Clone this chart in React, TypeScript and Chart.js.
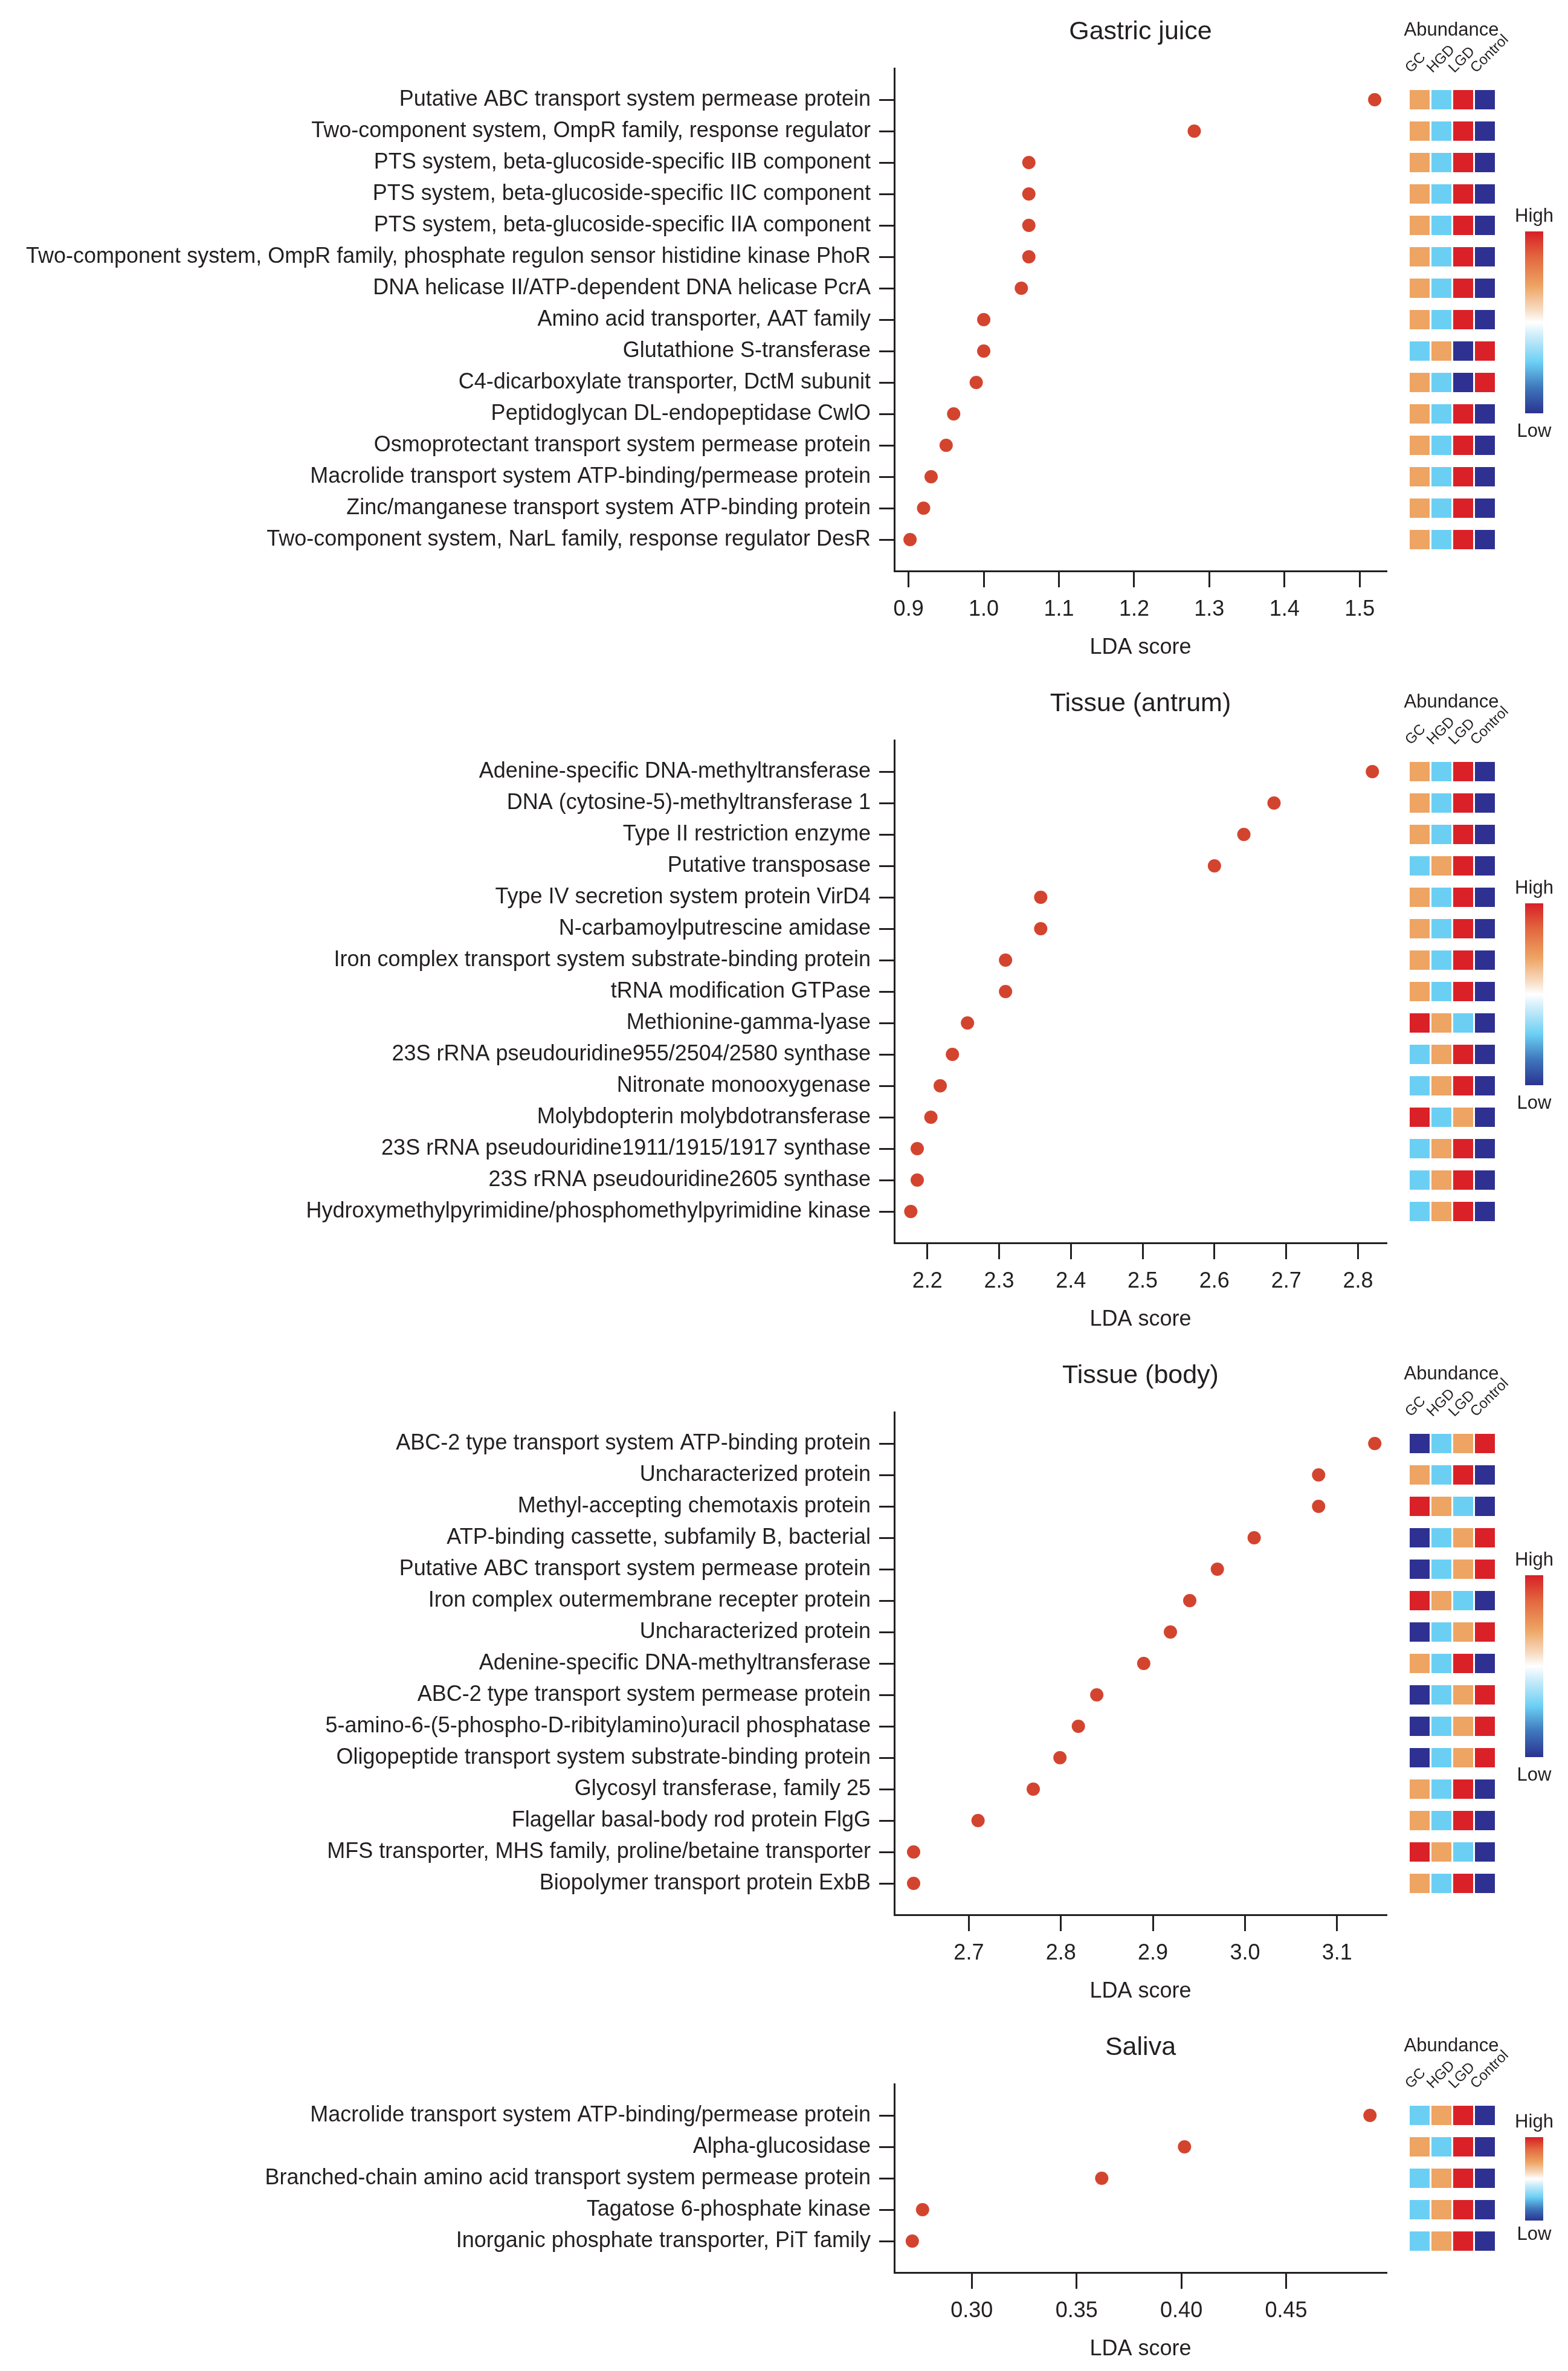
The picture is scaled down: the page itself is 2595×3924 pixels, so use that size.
import React, { useEffect, useRef } from "react";
import { Chart, registerables } from "chart.js";

Chart.register(...registerables);

// ---------------- DATA ----------------
const groupLabels = ["GC", "HGD", "LGD", "Control"];

// Abundance levels: 4 = high (red), 3 = orange, 2 = light blue, 1 = low (dark blue)
const gastricLabels = [
  "Putative ABC transport system permease protein",
  "Two-component system, OmpR family, response regulator",
  "PTS system, beta-glucoside-specific IIB component",
  "PTS system, beta-glucoside-specific IIC component",
  "PTS system, beta-glucoside-specific IIA component",
  "Two-component system, OmpR family, phosphate regulon sensor histidine kinase PhoR",
  "DNA helicase II/ATP-dependent DNA helicase PcrA",
  "Amino acid transporter, AAT family",
  "Glutathione S-transferase",
  "C4-dicarboxylate transporter, DctM subunit",
  "Peptidoglycan DL-endopeptidase CwlO",
  "Osmoprotectant transport system permease protein",
  "Macrolide transport system ATP-binding/permease protein",
  "Zinc/manganese transport system ATP-binding protein",
  "Two-component system, NarL family, response regulator DesR",
];
const gastricScores = [1.52, 1.28, 1.06, 1.06, 1.06, 1.06, 1.05, 1.0, 1.0, 0.99, 0.96, 0.95, 0.93, 0.92, 0.902];
const gastricHeat = [
  [3, 2, 4, 1], [3, 2, 4, 1], [3, 2, 4, 1], [3, 2, 4, 1], [3, 2, 4, 1],
  [3, 2, 4, 1], [3, 2, 4, 1], [3, 2, 4, 1], [2, 3, 1, 4], [3, 2, 1, 4],
  [3, 2, 4, 1], [3, 2, 4, 1], [3, 2, 4, 1], [3, 2, 4, 1], [3, 2, 4, 1],
];
const gastricTicks = [0.9, 1.0, 1.1, 1.2, 1.3, 1.4, 1.5];

const antrumLabels = [
  "Adenine-specific DNA-methyltransferase",
  "DNA (cytosine-5)-methyltransferase 1",
  "Type II restriction enzyme",
  "Putative transposase",
  "Type IV secretion system protein VirD4",
  "N-carbamoylputrescine amidase",
  "Iron complex transport system substrate-binding protein",
  "tRNA modification GTPase",
  "Methionine-gamma-lyase",
  "23S rRNA pseudouridine955/2504/2580 synthase",
  "Nitronate monooxygenase",
  "Molybdopterin molybdotransferase",
  "23S rRNA pseudouridine1911/1915/1917 synthase",
  "23S rRNA pseudouridine2605 synthase",
  "Hydroxymethylpyrimidine/phosphomethylpyrimidine kinase",
];
const antrumScores = [2.82, 2.683, 2.641, 2.6, 2.358, 2.358, 2.309, 2.309, 2.256, 2.235, 2.218, 2.205, 2.186, 2.186, 2.177];
const antrumHeat = [
  [3, 2, 4, 1], [3, 2, 4, 1], [3, 2, 4, 1], [2, 3, 4, 1], [3, 2, 4, 1],
  [3, 2, 4, 1], [3, 2, 4, 1], [3, 2, 4, 1], [4, 3, 2, 1], [2, 3, 4, 1],
  [2, 3, 4, 1], [4, 2, 3, 1], [2, 3, 4, 1], [2, 3, 4, 1], [2, 3, 4, 1],
];
const antrumTicks = [2.2, 2.3, 2.4, 2.5, 2.6, 2.7, 2.8];

const bodyLabels = [
  "ABC-2 type transport system ATP-binding protein",
  "Uncharacterized protein",
  "Methyl-accepting chemotaxis protein",
  "ATP-binding cassette, subfamily B, bacterial",
  "Putative ABC transport system permease protein",
  "Iron complex outermembrane recepter protein",
  "Uncharacterized protein",
  "Adenine-specific DNA-methyltransferase",
  "ABC-2 type transport system permease protein",
  "5-amino-6-(5-phospho-D-ribitylamino)uracil phosphatase",
  "Oligopeptide transport system substrate-binding protein",
  "Glycosyl transferase, family 25",
  "Flagellar basal-body rod protein FlgG",
  "MFS transporter, MHS family, proline/betaine transporter",
  "Biopolymer transport protein ExbB",
];
const bodyScores = [3.141, 3.08, 3.08, 3.01, 2.97, 2.94, 2.919, 2.89, 2.839, 2.819, 2.799, 2.77, 2.71, 2.64, 2.64];
const bodyHeat = [
  [1, 2, 3, 4], [3, 2, 4, 1], [4, 3, 2, 1], [1, 2, 3, 4], [1, 2, 3, 4],
  [4, 3, 2, 1], [1, 2, 3, 4], [3, 2, 4, 1], [1, 2, 3, 4], [1, 2, 3, 4],
  [1, 2, 3, 4], [3, 2, 4, 1], [3, 2, 4, 1], [4, 3, 2, 1], [3, 2, 4, 1],
];
const bodyTicks = [2.7, 2.8, 2.9, 3.0, 3.1];

const salivaLabels = [
  "Macrolide transport system ATP-binding/permease protein",
  "Alpha-glucosidase",
  "Branched-chain amino acid transport system permease protein",
  "Tagatose 6-phosphate kinase",
  "Inorganic phosphate transporter, PiT family",
];
const salivaScores = [0.49, 0.4015, 0.362, 0.2765, 0.2716];
const salivaHeat = [
  [2, 3, 4, 1], [3, 2, 4, 1], [2, 3, 4, 1], [2, 3, 4, 1], [2, 3, 4, 1],
];
const salivaTicks = [0.3, 0.35, 0.4, 0.45];

// ---------------- STYLE ----------------
const FONT = "'Liberation Sans', Arial, sans-serif";
const INK = "#231F20";
const DOT = "#D3442F";
const LEVEL_COLORS: Record<number, string> = {
  4: "#DA2128",
  3: "#EEA463",
  2: "#6BCFF4",
  1: "#2E3191",
};

const AXIS_X = 1480; // absolute x of y-axis line
const AXIS_RIGHT = 2295;
const ROW = 52;
const LABEL_DROP = 22; // column labels start this far below the y-axis top

type PanelProps = {
  title: string;
  labels: string[];
  scores: number[];
  heat: number[][];
  ticks: number[];
  decimals: number;
  xMin: number;
  xMax: number;
  axisTop: number; // absolute y of the top of the y axis
  short?: boolean;
};

function Panel(p: PanelProps) {
  const dotRef = useRef<HTMLCanvasElement>(null);
  const heatRef = useRef<HTMLCanvasElement>(null);
  const n = p.labels.length;
  const xAxisY = p.axisTop + (n + 1) * ROW;
  const T = p.axisTop - 110;
  const H = xAxisY + 170 - T;

  useEffect(() => {
    const titleSize = 43;
    const titleLH = titleSize * 1.2;
    const dot = new Chart(dotRef.current!, {
      type: "scatter",
      data: {
        datasets: [
          {
            data: p.scores.map((s, i) => ({ x: s, y: i })),
            backgroundColor: DOT,
            borderWidth: 0,
            pointRadius: 11,
            pointHoverRadius: 11,
          },
        ],
      },
      options: {
        animation: false,
        responsive: false,
        maintainAspectRatio: false,
        events: [],
        layout: { padding: { left: 0, right: 2310 - AXIS_RIGHT, top: 0, bottom: 0 } },
        plugins: {
          legend: { display: false },
          tooltip: { enabled: false },
          title: {
            display: true,
            text: p.title,
            color: INK,
            fullSize: false,
            font: { family: FONT, size: titleSize, weight: "normal", lineHeight: 1.2 },
            padding: { top: 50 - titleLH / 2, bottom: 110 - (50 - titleLH / 2) - titleLH },
          },
        },
        scales: {
          x: {
            type: "linear",
            min: p.xMin,
            max: p.xMax,
            afterBuildTicks: (scale: any) => {
              scale.ticks = p.ticks.map((v) => ({ value: v }));
            },
            afterFit: (scale: any) => {
              scale.height = H - (xAxisY - T);
              scale.paddingLeft = 0;
              scale.paddingRight = 0;
            },
            border: { display: true, color: INK, width: 3 },
            grid: {
              display: true,
              drawOnChartArea: false,
              drawTicks: true,
              tickLength: 27,
              tickWidth: 3,
              tickColor: INK,
            },
            ticks: {
              color: INK,
              padding: 15,
              autoSkip: false,
              maxRotation: 0,
              font: { family: FONT, size: 36, lineHeight: 1.2 },
              callback: (v: any) => Number(v).toFixed(p.decimals),
            },
            title: {
              display: true,
              text: "LDA score",
              color: INK,
              font: { family: FONT, size: 36, lineHeight: 1.2 },
              padding: { top: 0, bottom: 21 },
            },
          },
          y: {
            type: "linear",
            reverse: true,
            min: -1,
            max: n,
            afterBuildTicks: (scale: any) => {
              scale.ticks = p.labels.map((_, i) => ({ value: i }));
            },
            afterFit: (scale: any) => {
              scale.width = AXIS_X;
            },
            border: { display: true, color: INK, width: 3 },
            grid: {
              display: true,
              drawOnChartArea: false,
              drawTicks: true,
              tickLength: 25,
              tickWidth: 3,
              tickColor: INK,
            },
            ticks: {
              color: INK,
              padding: 14,
              autoSkip: false,
              font: { family: FONT, size: 36, lineHeight: 1.2 },
              callback: (v: any) => p.labels[Math.round(Number(v))] ?? "",
            },
          },
        },
      },
    } as any);

    const cellHalf = 16 / ROW;
    const heatChart = new Chart(heatRef.current!, {
      type: "bar",
      data: {
        labels: groupLabels,
        datasets: p.heat.map((row, ri) => ({
          data: row.map(() => [ri - cellHalf, ri + cellHalf]),
          backgroundColor: row.map((lv) => LEVEL_COLORS[lv]),
          borderWidth: 0,
          grouped: false,
          barPercentage: 33 / 36,
          categoryPercentage: 1,
        })),
      },
      options: {
        animation: false,
        responsive: false,
        maintainAspectRatio: false,
        events: [],
        layout: {
          padding: {
            left: 2331.5 - 2300,
            right: 2595 - 2475.5,
            top: 0,
            bottom: H - (xAxisY - T),
          },
        },
        plugins: { legend: { display: false }, tooltip: { enabled: false }, title: { display: false } },
        scales: {
          x: {
            type: "category",
            position: "top",
            offset: true,
            afterFit: (scale: any) => {
              scale.height = p.axisTop + LABEL_DROP - T;
              scale.paddingLeft = 0;
              scale.paddingRight = 0;
            },
            border: { display: false },
            grid: { display: false },
            ticks: {
              color: INK,
              autoSkip: false,
              minRotation: 45,
              maxRotation: 45,
              padding: 0,
              labelOffset: 1,
              font: { family: FONT, size: 24, lineHeight: 1.2 },
            },
          },
          y: {
            type: "linear",
            display: false,
            reverse: true,
            min: -1 + LABEL_DROP / ROW,
            max: n,
          },
        },
      },
    } as any);

    return () => {
      dot.destroy();
      heatChart.destroy();
    };
  }, []);

  const shortBar = !!p.short;
  const highY = p.axisTop + (shortBar ? 62 : 244);
  const barTop = p.axisTop + (shortBar ? 88 : 270);
  const barBottom = p.axisTop + (shortBar ? 226 : 571);
  const lowY = p.axisTop + (shortBar ? 248 : 600);

  const textStyle: React.CSSProperties = {
    position: "absolute",
    fontFamily: FONT,
    color: INK,
    fontSize: 31,
    lineHeight: "38px",
    whiteSpace: "nowrap",
    transform: "translate(-50%, -50%)",
  };

  return (
    <>
      <canvas
        ref={dotRef}
        width={2310}
        height={H}
        style={{ position: "absolute", left: 0, top: T, width: 2310, height: H }}
      />
      <canvas
        ref={heatRef}
        width={295}
        height={H}
        style={{ position: "absolute", left: 2300, top: T, width: 295, height: H }}
      />
      <div style={{ ...textStyle, left: 2402, top: p.axisTop - 64 }}>Abundance</div>
      <div style={{ ...textStyle, left: 2539, top: highY }}>High</div>
      <div style={{ ...textStyle, left: 2539, top: lowY }}>Low</div>
      <div
        style={{
          position: "absolute",
          left: 2524,
          top: barTop,
          width: 30,
          height: barBottom - barTop,
          background:
            "linear-gradient(to bottom, #D71F27 0%, #E2673F 14%, #EEA463 30%, #F7DCC3 43%, #FFFFFF 50%, #C9EBF9 58%, #6BCFF4 72%, #3E76BB 86%, #2B3390 100%)",
        }}
      />
    </>
  );
}

export default function App() {
  useEffect(() => {
    document.body.style.margin = "0";
    document.body.style.background = "#FFFFFF";
  }, []);
  return (
    <div style={{ position: "relative", width: 2595, height: 3924, background: "#FFFFFF", overflow: "hidden" }}>
      <Panel
        title="Gastric juice"
        labels={gastricLabels}
        scores={gastricScores}
        heat={gastricHeat}
        ticks={gastricTicks}
        decimals={1}
        xMin={0.881}
        xMax={1.536}
        axisTop={113}
      />
      <Panel
        title="Tissue (antrum)"
        labels={antrumLabels}
        scores={antrumScores}
        heat={antrumHeat}
        ticks={antrumTicks}
        decimals={1}
        xMin={2.154}
        xMax={2.84}
        axisTop={1225}
      />
      <Panel
        title="Tissue (body)"
        labels={bodyLabels}
        scores={bodyScores}
        heat={bodyHeat}
        ticks={bodyTicks}
        decimals={1}
        xMin={2.619}
        xMax={3.154}
        axisTop={2337}
      />
      <Panel
        title="Saliva"
        labels={salivaLabels}
        scores={salivaScores}
        heat={salivaHeat}
        ticks={salivaTicks}
        decimals={2}
        xMin={0.263}
        xMax={0.498}
        axisTop={3449}
        short
      />
    </div>
  );
}
